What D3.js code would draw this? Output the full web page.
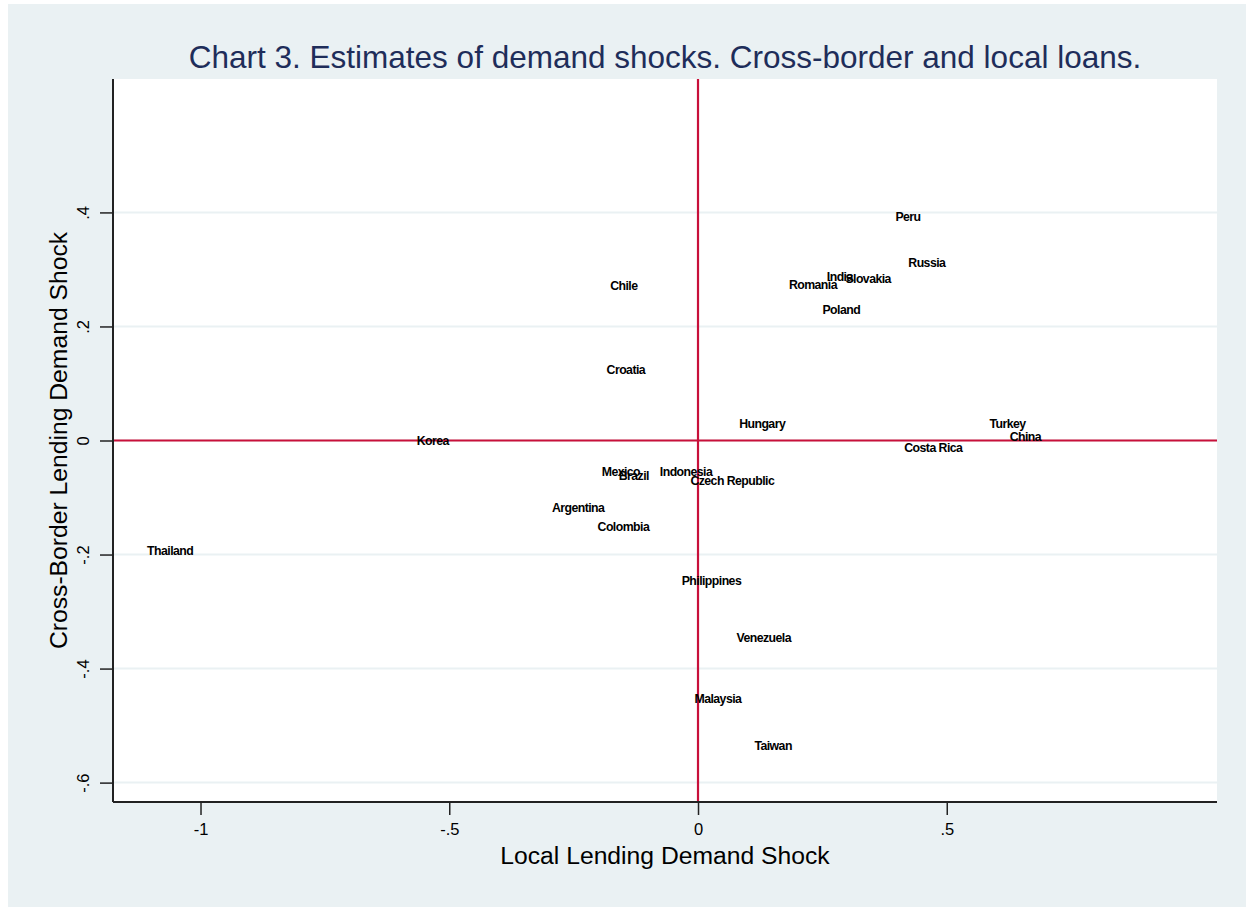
<!DOCTYPE html>
<html>
<head>
<meta charset="utf-8">
<script src="https://cdn.jsdelivr.net/npm/d3@7"></script>
<style>
  html, body { margin: 0; padding: 0; background: #ffffff; }
  svg { display: block; }
</style>
</head>
<body>
<svg id="chart" width="1246" height="907"></svg>
<script>
// ---- Data ----
const countries = ["Peru","Russia","India","Slovakia","Romania","Poland","Chile","Croatia",
  "Hungary","Korea","Mexico","Brazil","Indonesia","Czech Republic","Argentina","Colombia",
  "Thailand","Turkey","China","Costa Rica","Philippines","Venezuela","Malaysia","Taiwan"];
const localShock = [0.422, 0.460, 0.285, 0.342, 0.231, 0.288, -0.149, -0.145,
  0.129, -0.533, -0.155, -0.129, -0.024, 0.069, -0.241, -0.150,
  -1.061, 0.622, 0.658, 0.473, 0.027, 0.132, 0.040, 0.151];
const crossBorderShock = [0.392, 0.311, 0.287, 0.283, 0.273, 0.229, 0.271, 0.125,
  0.029, 0.000, -0.054, -0.062, -0.054, -0.071, -0.118, -0.152,
  -0.194, 0.029, 0.006, -0.013, -0.245, -0.345, -0.452, -0.536];
const xTicks = [-1, -0.5, 0, 0.5];
const xTickLabels = ["-1", "-.5", "0", ".5"];
const yTicks = [-0.6, -0.4, -0.2, 0, 0.2, 0.4];
const yTickLabels = ["-.6", "-.4", "-.2", "0", ".2", ".4"];
const title = "Chart 3. Estimates of demand shocks. Cross-border and local loans.";
const xTitle = "Local Lending Demand Shock";
const yTitle = "Cross-Border Lending Demand Shock";

// ---- Layout ----
const W = 1246, H = 907;
const plot = { left: 113, right: 1217, top: 79, bottom: 802 };
const bg = "#EAF1F3";
const font = "'Liberation Sans', Arial, sans-serif";
const red = "#C8103A";

const svg = d3.select("#chart");

svg.append("rect").attr("x", 8).attr("y", 4).attr("width", W - 8).attr("height", H - 4).attr("fill", bg);
svg.append("rect").attr("x", plot.left).attr("y", plot.top)
  .attr("width", plot.right - plot.left).attr("height", plot.bottom - plot.top).attr("fill", "#ffffff");

const x = d3.scaleLinear().domain([-1.1759, 1.0432]).range([plot.left, plot.right]);
const y = d3.scaleLinear().domain([-0.634, 0.634]).range([plot.bottom, plot.top]);

// gridlines
svg.append("g").selectAll("line").data(yTicks).join("line")
  .attr("x1", plot.left).attr("x2", plot.right)
  .attr("y1", d => y(d)).attr("y2", d => y(d))
  .attr("stroke", bg).attr("stroke-width", 2);

// reference lines
svg.append("line").attr("x1", x(0)).attr("x2", x(0)).attr("y1", plot.top).attr("y2", plot.bottom)
  .attr("stroke", red).attr("stroke-width", 2.2);
svg.append("line").attr("x1", plot.left).attr("x2", plot.right).attr("y1", y(0)).attr("y2", y(0))
  .attr("stroke", red).attr("stroke-width", 2.2);

// x axis
const xAxis = d3.axisBottom(x).tickValues(xTicks)
  .tickFormat((d, i) => xTickLabels[i]).tickSize(13).tickSizeOuter(0).tickPadding(8);
const gx = svg.append("g").attr("transform", `translate(0,${plot.bottom})`).call(xAxis);
gx.select(".domain").attr("d", `M${plot.left},0H${plot.right}`).attr("stroke", "#222").attr("stroke-width", 2);
gx.selectAll(".tick line").attr("stroke", "#222").attr("stroke-width", 1.5);
gx.selectAll(".tick text").attr("font-family", font).attr("font-size", 16.5).attr("fill", "#000");

// y axis
const yAxis = d3.axisLeft(y).tickValues(yTicks)
  .tickFormat((d, i) => yTickLabels[i]).tickSize(13).tickSizeOuter(0);
const gy = svg.append("g").attr("transform", `translate(${plot.left},0)`).call(yAxis);
gy.select(".domain").attr("d", `M0,${plot.top}V${plot.bottom}`).attr("stroke", "#222").attr("stroke-width", 2);
gy.selectAll(".tick line").attr("stroke", "#222").attr("stroke-width", 1.5);
gy.selectAll(".tick text")
  .attr("font-family", font).attr("font-size", 16.5).attr("fill", "#000")
  .attr("x", 0).attr("dy", null)
  .attr("text-anchor", "middle")
  .attr("transform", "translate(-24,0) rotate(-90)");

// labels
svg.append("g").selectAll("text").data(countries).join("text")
  .attr("x", (d, i) => x(localShock[i]))
  .attr("y", (d, i) => y(crossBorderShock[i]))
  .attr("dy", "0.35em")
  .attr("text-anchor", "middle")
  .attr("font-family", font).attr("font-size", 12.3).attr("font-weight", "bold")
  .attr("letter-spacing", -0.55)
  .attr("fill", "#000")
  .text(d => d);

// titles
svg.append("text").attr("x", (plot.left + plot.right) / 2).attr("y", 68)
  .attr("text-anchor", "middle").attr("font-family", font).attr("font-size", 31.5)
  .attr("fill", "#1E2D5A").text(title);
svg.append("text").attr("x", (plot.left + plot.right) / 2).attr("y", 864)
  .attr("text-anchor", "middle").attr("font-family", font).attr("font-size", 24.7)
  .attr("fill", "#000").text(xTitle);
svg.append("text").attr("transform", `translate(67,${(plot.top + plot.bottom) / 2}) rotate(-90)`)
  .attr("text-anchor", "middle").attr("font-family", font).attr("font-size", 24.7)
  .attr("fill", "#000").text(yTitle);
</script>
</body>
</html>
